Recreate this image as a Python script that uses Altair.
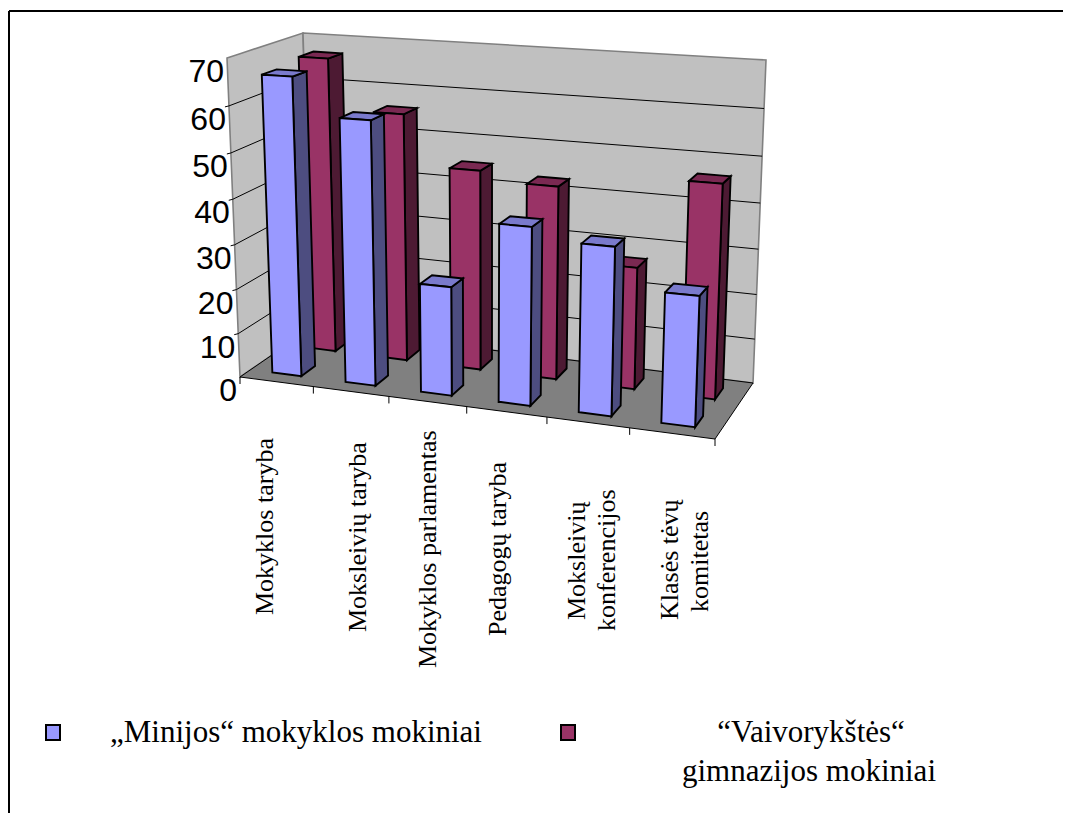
import altair as alt
import pandas as pd

# ---- chart values -------------------------------------------------------
series_minijos = [66, 58, 24, 38.5, 36, 27.6]
series_vaivorykste = [67, 56, 45, 43, 27, 46.5]
ticks = [0, 10, 20, 30, 40, 50, 60, 70]
cat_lines = [
    ["Mokyklos taryba"],
    ["Moksleivių taryba"],
    ["Mokyklos parlamentas"],
    ["Pedagogų taryba"],
    ["Moksleivių", "konferencijos"],
    ["Klasės tėvų", "komitetas"],
]
legend_a = "„Minijos“ mokyklos mokiniai"
legend_b = ["“Vaivorykštės“", "gimnazijos mokiniai"]

# ---- styling / 3-D view ---------------------------------------------------
WALL, FLOOR, GREY = "#C0C0C0", "#808080", "#808080"
BLUE = ("#9999FF", "#4D4D80", "#7A7ACC")
PURP = ("#993366", "#4D1A33", "#7A2952")
VMAX = 70.0
C = {  # projected box corners (u, v, w)
    (0, 0, 0): (240, 377), (1, 0, 0): (715, 439),
    (0, 1, 0): (312, 327.5), (1, 1, 0): (753, 383),
    (0, 0, 1): (227, 58), (1, 0, 1): (728, 88),
    (0, 1, 1): (303, 33), (1, 1, 1): (766, 60),
}


def proj(u, v, value):
    u = u / (1 + 0.095 * (1 - u))
    w = value / VMAX
    w = w / (1 + 0.06 * (1 - w))
    out = []
    for k in (0, 1):
        t = 0
        for a in (0, 1):
            for b in (0, 1):
                for c in (0, 1):
                    t += (u if a else 1 - u) * (v if b else 1 - v) * (w if c else 1 - w) * C[(a, b, c)][k]
        out.append(t)
    return tuple(out)


def poly(store, name, pts, fill, stroke, sw):
    """Convex polygon -> x / y / y2 rows for an area mark."""
    xs = sorted({round(p[0], 3) for p in pts})
    n = len(pts)

    def at(x):
        ys = []
        for i in range(n):
            a, b = pts[i], pts[(i + 1) % n]
            lo, hi = min(a[0], b[0]), max(a[0], b[0])
            if lo - 0.002 <= x <= hi + 0.002:
                if abs(b[0] - a[0]) < 1e-6:
                    ys += [a[1], b[1]]
                else:
                    t = (x - a[0]) / (b[0] - a[0])
                    ys.append(a[1] + t * (b[1] - a[1]))
        return min(ys), max(ys)

    for x in xs:
        top, bot = at(x)
        store.append(dict(id=name, px=x, py=top, py2=bot, fill=fill, stroke=stroke, sw=sw))


back = []
poly(back, "wall_left", [proj(0, 0, 0), proj(0, 1, 0), proj(0, 1, VMAX), proj(0, 0, VMAX)], WALL, GREY, 1.6)
poly(back, "wall_back", [proj(0, 1, 0), proj(1, 1, 0), proj(1, 1, VMAX), proj(0, 1, VMAX)], WALL, GREY, 1.6)
poly(back, "floor", [proj(0, 0, 0), proj(1, 0, 0), proj(1, 1, 0), proj(0, 1, 0)], FLOOR, "#000000", 1.0)

grid = []
for t in ticks[1:-1]:
    for j, (u, v) in enumerate([(0, 0), (0, 1), (1, 1)]):
        x, y = proj(u, v, t)
        grid.append(dict(id=f"g{t}", px=x, py=y, o=j))
    x, y = proj(0, 0, t)
    grid.append(dict(id=f"m{t}", px=x - 4, py=y + 1, o=0))
    grid.append(dict(id=f"m{t}", px=x, py=y, o=1))
for i in range(7):
    a = proj(i / 6, 0, 0)
    grid.append(dict(id=f"t{i}", px=a[0], py=a[1], o=0))
    grid.append(dict(id=f"t{i}", px=a[0], py=a[1] + 7, o=1))

bars = []


def bar(i, val, v0, v1, cols, tag):
    u0, u1 = (i + 0.3) / 6, (i + 0.7) / 6
    front = [proj(u0, v0, 0), proj(u1, v0, 0), proj(u1, v0, val), proj(u0, v0, val)]
    side = [proj(u1, v0, 0), proj(u1, v1, 0), proj(u1, v1, val), proj(u1, v0, val)]
    top = [proj(u0, v0, val), proj(u1, v0, val), proj(u1, v1, val), proj(u0, v1, val)]
    poly(bars, f"{tag}{i}s", side, cols[1], "#000000", 1.9)
    poly(bars, f"{tag}{i}t", top, cols[2], "#000000", 1.9)
    poly(bars, f"{tag}{i}f", front, cols[0], "#000000", 1.9)


for i, val in enumerate(series_vaivorykste):
    bar(i, val, 0.65, 0.85, PURP, "p")
for i, val in enumerate(series_minijos):
    bar(i, val, 0.15, 0.35, BLUE, "b")

legend_boxes = []
for name, x0, col in (("la", 46, BLUE[0]), ("lb", 561, PURP[0])):
    poly(legend_boxes, name, [(x0, 725), (x0 + 14, 725), (x0 + 14, 740), (x0, 740)], col, "#000000", 2)

frame = [
    dict(id="top", px=9, py=11, o=0), dict(id="top", px=1063, py=11, o=1),
    dict(id="left", px=9, py=11, o=0), dict(id="left", px=9, py=813, o=1),
]

tick_text = []
for t in ticks:
    x, y = proj(0, 0, t)
    tick_text.append(dict(px=x - 3, py=y + 14, txt=str(t)))

cat_x = [[265], [358], [428], [498], [577, 607], [670, 700]]
cat_y = [[615], [632], [668], [636], [620, 631], [620, 612]]
cat_text = []
for ls, xs, ys in zip(cat_lines, cat_x, cat_y):
    for s, x, y in zip(ls, xs, ys):
        cat_text.append(dict(px=x, py=y, txt=s))

leg_left = [dict(px=110, py=733, txt=legend_a)]
leg_center = [dict(px=811, py=733, txt=legend_b[0]), dict(px=809, py=772, txt=legend_b[1])]

# ---- scales --------------------------------------------------------------
X = alt.X("px:Q", axis=None, scale=alt.Scale(domain=[8, 1063], nice=False, zero=False))
Y = alt.Y("py:Q", axis=None, scale=alt.Scale(domain=[813, 8], nice=False, zero=False))
Y2 = alt.Y2("py2:Q")


def areas(data):
    return alt.Chart(pd.DataFrame(data)).mark_area(orient="vertical", interpolate="linear").encode(
        x=X, y=Y, y2=Y2,
        detail="id:N",
        fill=alt.Fill("fill:N", scale=None),
        stroke=alt.Stroke("stroke:N", scale=None),
        strokeWidth=alt.StrokeWidth("sw:Q", scale=None),
    )


def lines(data, color, width):
    return alt.Chart(pd.DataFrame(data)).mark_line(color=color, strokeWidth=width).encode(
        x=X, y=Y, detail="id:N", order="o:Q"
    )


def texts(data, font, size, **kw):
    return alt.Chart(pd.DataFrame(data)).mark_text(font=font, fontSize=size, color="#000000", **kw).encode(
        x=X, y=Y, text="txt:N"
    )


chart = alt.layer(
    lines(frame, "#000000", 2),
    areas(back),
    lines(grid, "#000000", 1.0),
    areas(bars),
    areas(legend_boxes),
    texts(tick_text, "Liberation Sans", 32, align="right", baseline="middle"),
    texts(cat_text, "Liberation Serif", 26, align="left", baseline="middle", angle=270),
    texts(leg_left, "Liberation Serif", 31, align="left", baseline="middle"),
    texts(leg_center, "Liberation Serif", 31, align="center", baseline="middle"),
).properties(
    width=1055, height=805, padding=0,
    autosize=alt.AutoSizeParams(type="none"),
    background="white",
).configure_view(stroke=None)

chart.save("out.html", embed_options={"renderer": "svg", "actions": False})
